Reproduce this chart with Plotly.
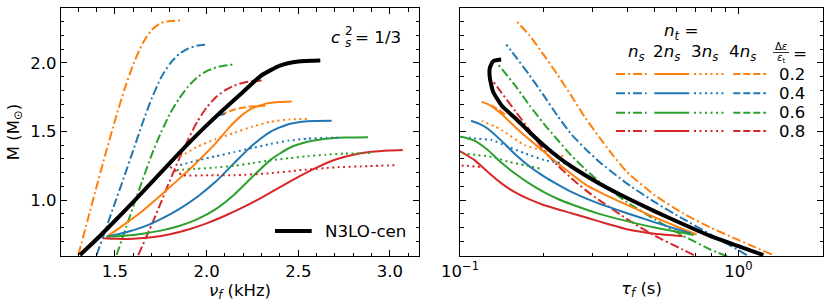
import plotly.graph_objects as go

# ---------------- data ----------------
# Left panel: f-mode frequency nu_f (kHz) vs mass M (Msun)
# naming: <style>_<deltaeps>; ns = n_t=n_s (dashdot), n2 = 2n_s (solid), n3 = 3n_s (dotted), n4 = 4n_s (dashed)
L_ns_02_nu = [1.30, 1.35, 1.40, 1.45, 1.50, 1.55, 1.60, 1.65, 1.70, 1.75, 1.80, 1.855]
L_ns_02_M = [0.60, 0.85, 1.10, 1.345, 1.58, 1.80, 1.99, 2.14, 2.24, 2.29, 2.305, 2.309]
L_ns_04_nu = [1.40, 1.45, 1.50, 1.55, 1.60, 1.65, 1.70, 1.75, 1.80, 1.85, 1.90, 1.95, 2.0]
L_ns_04_M = [0.60, 0.79, 0.98, 1.17, 1.365, 1.56, 1.74, 1.89, 1.995, 2.065, 2.105, 2.127, 2.134]
L_ns_06_nu = [1.509, 1.55, 1.60, 1.65, 1.70, 1.75, 1.80, 1.85, 1.90, 1.95, 2.00, 2.05, 2.10, 2.145]
L_ns_06_M = [0.60, 0.76, 0.955, 1.145, 1.33, 1.49, 1.63, 1.74, 1.83, 1.895, 1.94, 1.966, 1.981, 1.988]
L_ns_08_nu = [1.627, 1.70, 1.75, 1.80, 1.85, 1.90, 1.95, 2.00, 2.05, 2.10, 2.15, 2.20, 2.25, 2.30]
L_ns_08_M = [0.60, 0.82, 0.98, 1.145, 1.30, 1.445, 1.575, 1.675, 1.75, 1.80, 1.835, 1.856, 1.867, 1.871]

L_n2_02_nu = [1.455, 1.55, 1.65, 1.75, 1.85, 1.95, 2.05, 2.12, 2.18, 2.25, 2.33, 2.40, 2.464]
L_n2_02_M = [0.733, 0.822, 0.921, 1.035, 1.155, 1.28, 1.415, 1.525, 1.605, 1.670, 1.705, 1.715, 1.718]
L_n2_04_nu = [1.455, 1.55, 1.65, 1.75, 1.85, 1.95, 2.05, 2.15, 2.25, 2.35, 2.45, 2.55, 2.682]
L_n2_04_M = [0.733, 0.762, 0.803, 0.862, 0.935, 1.025, 1.135, 1.27, 1.40, 1.50, 1.555, 1.575, 1.578]
L_n2_06_nu = [1.455, 1.55, 1.65, 1.75, 1.85, 1.95, 2.05, 2.15, 2.25, 2.35, 2.45, 2.55, 2.65, 2.75, 2.88]
L_n2_06_M = [0.733, 0.740, 0.755, 0.778, 0.812, 0.862, 0.935, 1.04, 1.17, 1.295, 1.38, 1.425, 1.447, 1.456, 1.459]
L_n2_08_nu = [1.436, 1.50, 1.60, 1.70, 1.80, 1.90, 2.00, 2.10, 2.20, 2.30, 2.40, 2.50, 2.60, 2.70, 2.80, 2.90, 3.00, 3.07]
L_n2_08_M = [0.722, 0.718, 0.719, 0.729, 0.751, 0.786, 0.831, 0.886, 0.949, 1.019, 1.094, 1.169, 1.237,
             1.294, 1.33, 1.352, 1.362, 1.365]

L_n3_02_nu = [1.855, 1.95, 2.05, 2.15, 2.25, 2.35, 2.45, 2.555]
L_n3_02_M = [1.316, 1.39, 1.445, 1.49, 1.537, 1.572, 1.588, 1.592]
L_n3_04_nu = [1.855, 1.95, 2.05, 2.15, 2.25, 2.35, 2.45, 2.55, 2.65, 2.718]
L_n3_04_M = [1.255, 1.29, 1.32, 1.35, 1.38, 1.41, 1.434, 1.448, 1.454, 1.455]
L_n3_06_nu = [1.836, 1.95, 2.05, 2.15, 2.25, 2.35, 2.45, 2.55, 2.65, 2.75, 2.89]
L_n3_06_M = [1.219, 1.229, 1.238, 1.25, 1.27, 1.29, 1.306, 1.32, 1.331, 1.339, 1.343]
L_n3_08_nu = [1.80, 1.873, 2.018, 2.155, 2.336, 2.518, 2.70, 2.882, 3.045]
L_n3_08_M = [1.243, 1.182, 1.182, 1.182, 1.195, 1.219, 1.239, 1.248, 1.255]

L_n4_02_nu = [2.073, 2.155, 2.227, 2.29, 2.336]
L_n4_02_M = [1.62, 1.662, 1.68, 1.686, 1.688]
L_n4_04_nu = [2.065, 2.10]
L_n4_04_M = [1.62, 1.628]

L_n3lo_nu = [1.309, 1.40, 1.50, 1.60, 1.70, 1.80, 1.90, 2.00, 2.10, 2.20, 2.30, 2.40, 2.50, 2.62]
L_n3lo_M = [0.60, 0.715, 0.850, 0.988, 1.130, 1.272, 1.412, 1.545, 1.67, 1.79, 1.91, 1.98, 2.01, 2.018]

# Right panel: damping time tau_f (s) vs mass M (Msun)
R_ns_02_tau = [1.318, 1.122, 1.0, 0.7943, 0.6310, 0.5012, 0.3981, 0.3548, 0.3162, 0.2818, 0.2512, 0.2239,
               0.1995, 0.1778, 0.1585]
R_ns_02_M = [0.605, 0.665, 0.71, 0.80, 0.905, 1.035, 1.205, 1.325, 1.46, 1.60, 1.76, 1.915, 2.06, 2.20, 2.31]
R_ns_04_tau = [1.072, 1.0, 0.7943, 0.6310, 0.5012, 0.3981, 0.3162, 0.2818, 0.2512, 0.2239, 0.1995, 0.1778,
               0.1585, 0.1466]
R_ns_04_M = [0.60, 0.635, 0.75, 0.865, 0.985, 1.12, 1.28, 1.375, 1.48, 1.615, 1.765, 1.91, 2.045, 2.134]
R_ns_06_tau = [0.912, 0.7943, 0.6310, 0.5012, 0.3981, 0.3162, 0.2818, 0.2512, 0.2239, 0.1995, 0.1778,
               0.1585, 0.1371]
R_ns_06_M = [0.59, 0.64, 0.742, 0.86, 0.985, 1.135, 1.225, 1.325, 1.44, 1.56, 1.69, 1.83, 1.988]
R_ns_08_tau = [0.6918, 0.6310, 0.5012, 0.3981, 0.3162, 0.2818, 0.2512, 0.2239, 0.1995, 0.1778, 0.1585,
               0.1413, 0.1315]
R_ns_08_M = [0.60, 0.64, 0.74, 0.862, 1.0, 1.075, 1.16, 1.255, 1.365, 1.51, 1.645, 1.78, 1.866]

R_n2_02_tau = [0.7079, 0.6310, 0.5012, 0.3981, 0.3162, 0.2818, 0.2512, 0.2239, 0.1995, 0.1778, 0.1585,
               0.1413, 0.1318, 0.1259, 0.1194]
R_n2_02_M = [0.75, 0.79, 0.875, 0.965, 1.06, 1.115, 1.19, 1.27, 1.355, 1.44, 1.53, 1.625, 1.675, 1.70, 1.716]
R_n2_04_tau = [0.6761, 0.6310, 0.5012, 0.3981, 0.3162, 0.2818, 0.2512, 0.2239, 0.1995, 0.1778, 0.1585,
               0.1413, 0.1259, 0.1175, 0.1096]
R_n2_04_M = [0.757, 0.775, 0.838, 0.905, 0.975, 1.015, 1.06, 1.115, 1.175, 1.245, 1.33, 1.43, 1.52, 1.555, 1.578]
R_n2_06_tau = [0.6918, 0.6310, 0.5012, 0.3981, 0.3162, 0.2512, 0.2239, 0.1995, 0.1778, 0.1585, 0.1413,
               0.1259, 0.1122, 0.1047, 0.1]
R_n2_06_M = [0.745, 0.762, 0.80, 0.847, 0.90, 0.97, 1.01, 1.06, 1.12, 1.19, 1.27, 1.365, 1.435, 1.455, 1.462]
R_n2_08_tau = [0.6310, 0.5012, 0.3981, 0.3162, 0.2512, 0.1995, 0.1778, 0.1585, 0.1413, 0.1259, 0.1122,
               0.1, 0.0933]
R_n2_08_M = [0.737, 0.755, 0.788, 0.845, 0.905, 0.965, 1.005, 1.055, 1.12, 1.205, 1.295, 1.355, 1.37]

R_n3_02_tau = [0.235, 0.20, 0.171, 0.141, 0.133, 0.121, 0.118]
R_n3_02_M = [1.32, 1.36, 1.40, 1.511, 1.538, 1.574, 1.59]
R_n3_04_tau = [0.25, 0.201, 0.171, 0.149, 0.130, 0.113, 0.108]
R_n3_04_M = [1.26, 1.292, 1.341, 1.389, 1.438, 1.45, 1.456]
R_n3_06_tau = [0.193, 0.171, 0.149, 0.130, 0.116, 0.1026]
R_n3_06_M = [1.231, 1.255, 1.28, 1.316, 1.328, 1.341]
R_n3_08_tau = [0.118, 0.1054, 0.095]
R_n3_08_M = [1.243, 1.25, 1.255]

R_n4_02_tau = [0.145, 0.137, 0.130]
R_n4_02_M = [1.625, 1.66, 1.69]

R_n3lo_tau = [1.230, 1.0, 0.7943, 0.6310, 0.5012, 0.3981, 0.3162, 0.2512, 0.2239, 0.1995, 0.1778, 0.1585,
              0.1413, 0.1315, 0.128, 0.128, 0.1315, 0.1406]
R_n3lo_M = [0.60, 0.665, 0.738, 0.826, 0.918, 1.016, 1.122, 1.245, 1.318, 1.402, 1.495, 1.595, 1.688,
            1.79, 1.891, 1.964, 2.012, 2.024]

deltaeps_labels = ["0.2", "0.4", "0.6", "0.8"]
nt_labels = ["<i>n<sub>s</sub></i>", "2<i>n<sub>s</sub></i>", "3<i>n<sub>s</sub></i>", "4<i>n<sub>s</sub></i>"]
left_xticks = [1.5, 2.0, 2.5, 3.0]
yticks = [1.0, 1.5, 2.0]

# ---------------- styling ----------------
colors = {"0.2": "#ff7f0e", "0.4": "#1f77b4", "0.6": "#2ca02c", "0.8": "#d62728"}
dashes = {"ns": "9px,3px,2px,3px", "n2": "solid", "n3": "2px,3.5px", "n4": "7px,3px"}
FONT = "DejaVu Sans"
W, H = 831, 307

left_curves = [
    ("ns", "0.2", L_ns_02_nu, L_ns_02_M), ("ns", "0.4", L_ns_04_nu, L_ns_04_M),
    ("ns", "0.6", L_ns_06_nu, L_ns_06_M), ("ns", "0.8", L_ns_08_nu, L_ns_08_M),
    ("n2", "0.2", L_n2_02_nu, L_n2_02_M), ("n2", "0.4", L_n2_04_nu, L_n2_04_M),
    ("n2", "0.6", L_n2_06_nu, L_n2_06_M), ("n2", "0.8", L_n2_08_nu, L_n2_08_M),
    ("n3", "0.2", L_n3_02_nu, L_n3_02_M), ("n3", "0.4", L_n3_04_nu, L_n3_04_M),
    ("n3", "0.6", L_n3_06_nu, L_n3_06_M), ("n3", "0.8", L_n3_08_nu, L_n3_08_M),
    ("n4", "0.2", L_n4_02_nu, L_n4_02_M), ("n4", "0.4", L_n4_04_nu, L_n4_04_M),
]
right_curves = [
    ("ns", "0.2", R_ns_02_tau, R_ns_02_M), ("ns", "0.4", R_ns_04_tau, R_ns_04_M),
    ("ns", "0.6", R_ns_06_tau, R_ns_06_M), ("ns", "0.8", R_ns_08_tau, R_ns_08_M),
    ("n2", "0.2", R_n2_02_tau, R_n2_02_M), ("n2", "0.4", R_n2_04_tau, R_n2_04_M),
    ("n2", "0.6", R_n2_06_tau, R_n2_06_M), ("n2", "0.8", R_n2_08_tau, R_n2_08_M),
    ("n3", "0.2", R_n3_02_tau, R_n3_02_M), ("n3", "0.4", R_n3_04_tau, R_n3_04_M),
    ("n3", "0.6", R_n3_06_tau, R_n3_06_M), ("n3", "0.8", R_n3_08_tau, R_n3_08_M),
    ("n4", "0.2", R_n4_02_tau, R_n4_02_M),
]

fig = go.Figure()
for style, de, xs, ys in left_curves:
    fig.add_trace(go.Scatter(x=xs, y=ys, mode="lines", xaxis="x", yaxis="y",
                             line=dict(color=colors[de], width=2, dash=dashes[style],
                                       shape="spline", smoothing=0.5),
                             showlegend=False, hoverinfo="skip"))
for style, de, xs, ys in right_curves:
    fig.add_trace(go.Scatter(x=xs, y=ys, mode="lines", xaxis="x2", yaxis="y2",
                             line=dict(color=colors[de], width=2, dash=dashes[style],
                                       shape="spline", smoothing=0.5),
                             showlegend=False, hoverinfo="skip"))
fig.add_trace(go.Scatter(x=L_n3lo_nu, y=L_n3lo_M, mode="lines", xaxis="x", yaxis="y",
                         line=dict(color="black", width=4, shape="spline", smoothing=0.5),
                         showlegend=False, hoverinfo="skip"))
fig.add_trace(go.Scatter(x=R_n3lo_tau, y=R_n3lo_M, mode="lines", xaxis="x2", yaxis="y2",
                         line=dict(color="black", width=4, shape="spline", smoothing=0.5),
                         showlegend=False, hoverinfo="skip"))

def px(x):
    return x / W

def py(y):
    return 1 - y / H

ydom = [py(256), py(8)]
axis_common = dict(showline=True, linecolor="black", linewidth=1, mirror="ticks",
                   ticks="inside", ticklen=6, tickwidth=1, tickcolor="black",
                   showgrid=False, zeroline=False,
                   tickfont=dict(family=FONT, size=16.5, color="black"))

fig.update_layout(
    width=W, height=H, margin=dict(l=0, r=0, t=0, b=0),
    plot_bgcolor="white", paper_bgcolor="white",
    font=dict(family=FONT, color="black"),
    xaxis=dict(domain=[px(60.7), px(419.3)], range=[1.204, 3.16], anchor="y",
               tickvals=left_xticks, ticktext=[f"{v:.1f}" for v in left_xticks],
               minor=dict(ticks="inside", ticklen=3.5, dtick=0.1, tick0=1.0, tickcolor="black"),
               title=dict(text="<i>ν<sub>f</sub></i> (kHz)", font=dict(family=FONT, size=16.5), standoff=4),
               automargin=False, **axis_common),
    yaxis=dict(domain=ydom, range=[0.593, 2.40], anchor="x",
               tickvals=yticks, ticktext=[f"{v:.1f}" for v in yticks],
               minor=dict(ticks="inside", ticklen=3.5, dtick=0.1, tick0=0.0, tickcolor="black"),
               title=dict(text="M (M<sub>⊙</sub>)", font=dict(family=FONT, size=16.5), standoff=6),
               automargin=False, **axis_common),
    xaxis2=dict(domain=[px(460), px(823)], type="log", range=[-1, 0.304], anchor="y2",
                tickvals=[0.1, 1.0], ticktext=["10<sup>−1</sup>", "10<sup>0</sup>"],
                minor=dict(ticks="inside", ticklen=3.5, tickcolor="black",
                           tickvals=[0.2, 0.3, 0.4, 0.5, 0.6, 0.7, 0.8, 0.9, 2.0]),
                title=dict(text="<i>τ<sub>f</sub></i> (s)", font=dict(family=FONT, size=16.5), standoff=2),
                automargin=False, **axis_common),
    yaxis2=dict(domain=ydom, range=[0.593, 2.40], anchor="x2",
                tickvals=yticks, showticklabels=False,
                minor=dict(ticks="inside", ticklen=3.5, dtick=0.1, tick0=0.0, tickcolor="black"),
                automargin=False, **axis_common),
)

shapes = []
annotations = []

def note(text, x, y, size=16.7, xanchor="center"):
    annotations.append(dict(text=text, xref="paper", yref="paper", x=px(x), y=py(y),
                            xanchor=xanchor, yanchor="middle", showarrow=False,
                            font=dict(family=FONT, size=size, color="black")))

# N3LO-cen legend (left panel)
shapes.append(dict(type="line", xref="paper", yref="paper", x0=px(275), x1=px(311.7),
                   y0=py(231), y1=py(231), line=dict(color="black", width=4)))
note("N3LO-cen", 323, 231, xanchor="left")

# c_s^2 = 1/3 label
note("<i>c</i>", 342, 37, xanchor="right")
note("<i>s</i>", 342.5, 42.5, size=12, xanchor="left")
note("2", 342.5, 30.5, size=12, xanchor="left")
note("= 1/3", 353, 37, xanchor="left")

# custom legend (right panel)
note("<i>n<sub>t</sub></i> =", 681, 31)
col_x = [(616, 646.7), (654.3, 689.3), (694, 726.7), (733.3, 766)]
col_style = ["ns", "n2", "n3", "n4"]
head_x = [636.7, 666.7, 704.7, 742.5]
for hx, lab in zip(head_x, nt_labels):
    note(lab, hx, 53)
note("Δ<i>ε</i>", 781, 46.5, size=10)
note("<i>ε</i><sub>t</sub>", 781, 59, size=10)
shapes.append(dict(type="line", xref="paper", yref="paper", x0=px(773), x1=px(789),
                   y0=py(52.5), y1=py(52.5), line=dict(color="black", width=0.8)))
note("=", 791, 53, xanchor="left")
row_y = [74, 93.3, 112.7, 131]
for yy, de in zip(row_y, deltaeps_labels):
    for (x0, x1), st in zip(col_x, col_style):
        shapes.append(dict(type="line", xref="paper", yref="paper", x0=px(x0), x1=px(x1),
                           y0=py(yy), y1=py(yy),
                           line=dict(color=colors[de], width=2, dash=dashes[st])))
    note(de, 792, yy, size=16.5)

fig.update_layout(shapes=shapes, annotations=annotations)
fig.write_html("out.html", config={"displayModeBar": False},
               post_script="document.body.style.margin='0px';document.body.style.overflow='hidden';")
